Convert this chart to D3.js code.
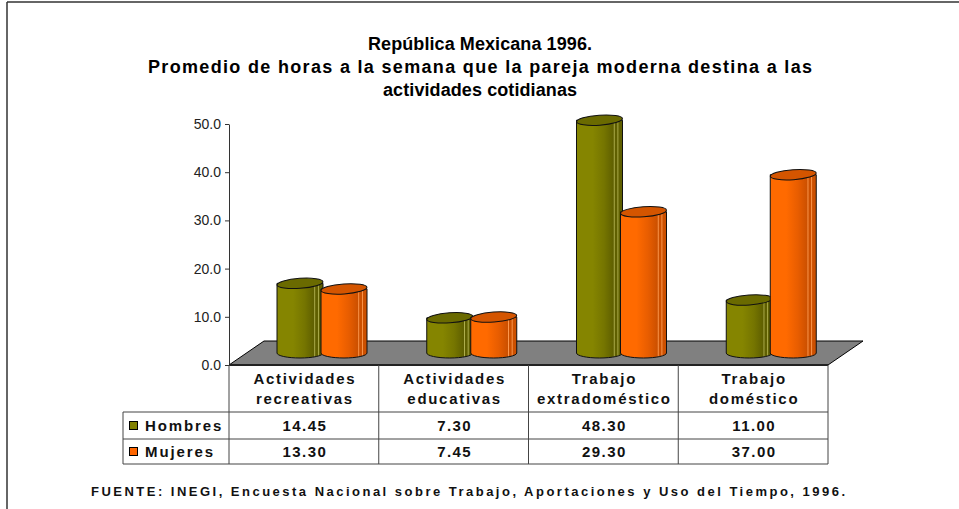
<!DOCTYPE html>
<html>
<head>
<meta charset="utf-8">
<script src="https://cdn.jsdelivr.net/npm/d3@7"></script>
<style>
  html, body { margin: 0; padding: 0; background: #fff; }
  svg { display: block; font-family: "Liberation Sans", Arial, sans-serif; }
</style>
</head>
<body>
<svg id="chart" width="959" height="509"></svg>
<script>
// Average weekly hours, República Mexicana 1996
const categories = [
  ["Actividades", "recreativas"],
  ["Actividades", "educativas"],
  ["Trabajo", "extradoméstico"],
  ["Trabajo", "doméstico"]
];
const seriesNames = ["Hombres", "Mujeres"];
const hombres = [14.45, 7.30, 48.30, 11.00];
const mujeres = [13.30, 7.45, 29.30, 37.00];
const yTicks = [0, 10, 20, 30, 40, 50];
const titleLines = [
  "República Mexicana 1996.",
  "Promedio de horas a la semana que la pareja moderna destina a las",
  "actividades cotidianas"
];
const sourceNote = "FUENTE: INEGI, Encuesta Nacional sobre Trabajo, Aportaciones y Uso del Tiempo, 1996.";

const seriesValues = [hombres, mujeres];
const colors = {
  Hombres: { light: "#858500", mid: "#757500", dark: "#5f5f00", top: "#6a6a00", stripe: "#b0b050", key: "#808000" },
  Mujeres: { light: "#ff6a00", mid: "#e85d00", dark: "#cc5000", top: "#d45500", stripe: "#ff9a50", key: "#ff6600" }
};

const svg = d3.select("#chart");
const defs = svg.append("defs");

// frame
svg.append("line").attr("x1", 7).attr("x2", 959).attr("y1", 2).attr("y2", 2)
  .attr("stroke", "#333").attr("stroke-width", 1.5);
svg.append("line").attr("x1", 7).attr("x2", 7).attr("y1", 2).attr("y2", 509)
  .attr("stroke", "#333").attr("stroke-width", 1.5);

// title, each line spread to its set width
const titleWidths = [224, 664, 194];
svg.append("g")
  .selectAll("text").data(titleLines).join("text")
  .attr("text-anchor", "middle")
  .attr("font-weight", "bold").attr("font-size", 18).attr("fill", "#000")
  .attr("x", 480).attr("y", (d, i) => 50 + i * 23)
  .attr("textLength", (d, i) => titleWidths[i])
  .attr("lengthAdjust", "spacing")
  .text(d => d);

// plot geometry
const left = 229, right = 828, floorFront = 365;
const depthX = 35, depthY = 24;
const y = d3.scaleLinear().domain([0, 50]).range([floorFront, 124]);
const x = d3.scaleBand().domain(d3.range(categories.length)).range([left, right]);
const xs = d3.scaleBand().domain(seriesNames).range([31.5, 119.5]);
// bars stand at mid depth of the floor
const baseY = floorFront - depthY / 2;
const shiftX = depthX / 2;
const barH = v => y(0) - y(v);

// floor
svg.append("polygon")
  .attr("points", [
    [left, floorFront], [left + depthX, floorFront - depthY],
    [right + depthX, floorFront - depthY], [right, floorFront]
  ].map(p => p.join(",")).join(" "))
  .attr("fill", "#808080").attr("stroke", "#000").attr("stroke-width", 1);

// y axis
const yAxis = svg.append("g")
  .attr("transform", `translate(${left},0)`)
  .call(d3.axisLeft(y).tickValues(yTicks).tickFormat(d3.format(".1f")).tickSize(4).tickSizeOuter(0));
yAxis.select(".domain").attr("stroke", "#333");
yAxis.selectAll(".tick line").attr("stroke", "#333");
yAxis.selectAll(".tick text").attr("font-size", 14).attr("fill", "#222")
  .attr("font-family", "Liberation Sans, Arial, sans-serif").attr("x", -8);

// cylinder gradients
seriesNames.forEach(s => {
  const c = colors[s];
  const g = defs.append("linearGradient").attr("id", "grad-" + s)
    .attr("x1", 0).attr("x2", 1).attr("y1", 0).attr("y2", 0);
  [[0, c.light], [0.35, c.light], [0.6, c.mid], [0.8, c.dark], [0.82, c.stripe],
   [0.84, c.dark], [0.88, c.dark], [0.9, c.stripe], [0.92, c.dark], [1, c.dark]]
    .forEach(([o, col]) => g.append("stop").attr("offset", o).attr("stop-color", col));
});

// cylinders
const ry = 5;
const bars = [];
seriesNames.forEach((s, si) => {
  seriesValues[si].forEach((v, ci) => bars.push({ s, ci, v }));
});
const barW = xs.bandwidth() + 2;
const cyl = svg.append("g").selectAll("g").data(bars).join("g")
  .attr("transform", d => `translate(${x(d.ci) + shiftX + xs(d.s) - 1},0)`);

cyl.append("path")
  .attr("d", d => {
    const top = baseY - barH(d.v), bot = baseY, rx = barW / 2;
    return `M0,${top} L0,${bot} A${rx},${ry} 0 0 0 ${barW},${bot} L${barW},${top} Z`;
  })
  .attr("fill", d => `url(#grad-${d.s})`)
  .attr("stroke", "#111").attr("stroke-width", 1);

cyl.append("ellipse")
  .attr("cx", barW / 2)
  .attr("cy", d => baseY - barH(d.v))
  .attr("rx", barW / 2).attr("ry", ry)
  .attr("transform", d => `rotate(-4 ${barW / 2} ${baseY - barH(d.v)})`)
  .attr("fill", d => colors[d.s].top)
  .attr("stroke", "#111").attr("stroke-width", 1);

// front edge of floor
svg.append("line").attr("x1", left).attr("x2", right)
  .attr("y1", floorFront).attr("y2", floorFront)
  .attr("stroke", "#222").attr("stroke-width", 2);

// data table
const rowTop = [floorFront, 412, 439, 464];
const tableLeft = 123;
const table = svg.append("g").attr("stroke", "#444").attr("stroke-width", 1);
d3.range(categories.length + 1).forEach(i => {
  const xx = i < categories.length ? x(i) : right;
  table.append("line").attr("x1", xx).attr("x2", xx).attr("y1", floorFront).attr("y2", rowTop[3]);
});
rowTop.slice(1).forEach(yy => {
  table.append("line").attr("x1", tableLeft).attr("x2", right).attr("y1", yy).attr("y2", yy);
});
table.append("line").attr("x1", tableLeft).attr("x2", tableLeft).attr("y1", rowTop[1]).attr("y2", rowTop[3]);

// category headers
svg.append("g").selectAll("text").data(categories).join("text")
  .attr("text-anchor", "middle").attr("font-weight", "bold").attr("font-size", 15)
  .attr("fill", "#111").attr("letter-spacing", 1.7)
  .each(function(d, i) {
    d3.select(this).selectAll("tspan").data(d).join("tspan")
      .attr("x", x(i) + x.bandwidth() / 2 + 1)
      .attr("y", (t, j) => 384 + j * 20)
      .text(t => t);
  });

// series rows
seriesNames.forEach((s, si) => {
  const cy = (rowTop[si + 1] + rowTop[si + 2]) / 2;
  svg.append("rect").attr("x", 129.5).attr("y", cy - 4).attr("width", 8).attr("height", 8)
    .attr("fill", colors[s].key).attr("stroke", "#000").attr("stroke-width", 1);
  svg.append("text").attr("x", 145).attr("y", cy + 5.5)
    .attr("font-weight", "bold").attr("font-size", 15).attr("fill", "#111")
    .attr("letter-spacing", 1.9).text(s);
  svg.append("g").selectAll("text").data(seriesValues[si]).join("text")
    .attr("x", (d, i) => x(i) + x.bandwidth() / 2 + 1).attr("y", cy + 5.5)
    .attr("text-anchor", "middle").attr("font-weight", "bold").attr("font-size", 15)
    .attr("fill", "#111").attr("letter-spacing", 1.4)
    .text(d => d3.format(".2f")(d));
});

// source note
svg.append("text").attr("x", 468).attr("y", 496).attr("text-anchor", "middle")
  .attr("font-weight", "bold").attr("font-size", 13)
  .attr("textLength", 754).attr("lengthAdjust", "spacing")
  .attr("fill", "#111").text(sourceNote);
</script>
</body>
</html>
